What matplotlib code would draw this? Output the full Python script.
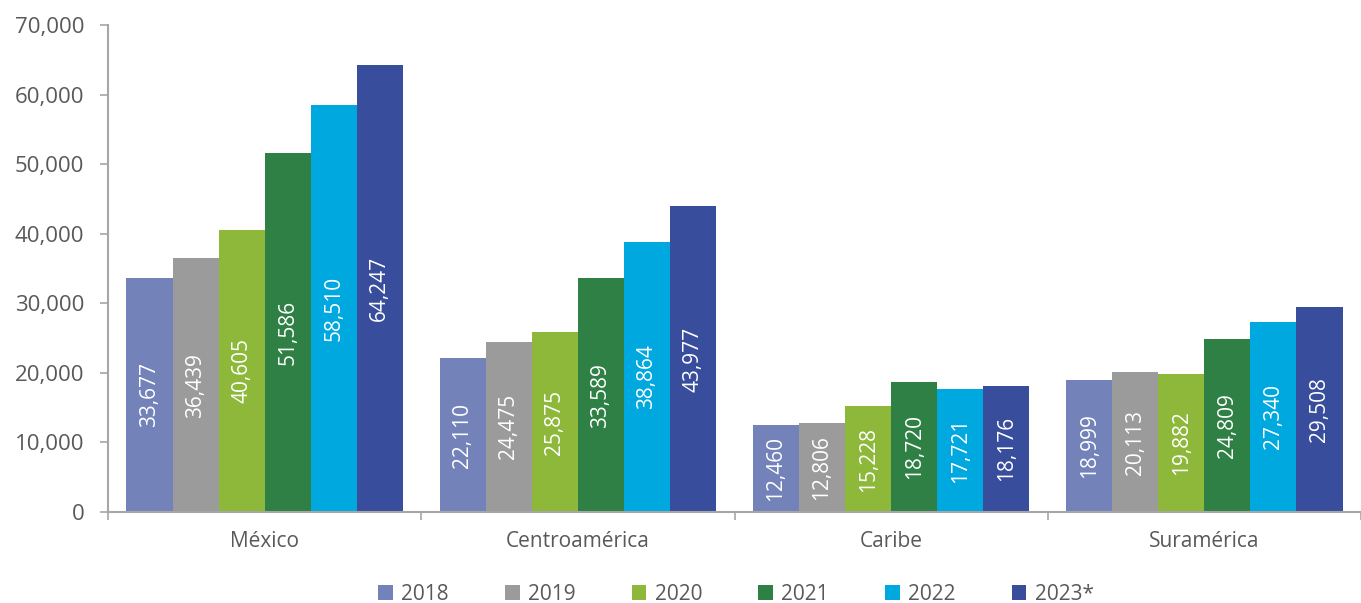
import numpy as np
import matplotlib.pyplot as plt

regions = ['México', 'Centroamérica', 'Caribe', 'Suramérica']
years = ['2018', '2019', '2020', '2021', '2022', '2023*']
values = {
    '2018': [33677, 22110, 12460, 18999],
    '2019': [36439, 24475, 12806, 20113],
    '2020': [40605, 25875, 15228, 19882],
    '2021': [51586, 33589, 18720, 24809],
    '2022': [58510, 38864, 17721, 27340],
    '2023*': [64247, 43977, 18176, 29508],
}
colors = ['#7382B9', '#9B9B9B', '#8DB83A', '#2E8044', '#00A8E0', '#384D9B']

plt.rcParams['font.family'] = ['Open Sans', 'DejaVu Sans']
grey = '#595959'
axis_grey = '#A6A6A6'

fig = plt.figure(figsize=(13.61, 6.03), dpi=100)
ax = fig.add_axes([108/1361, 1-512/603, 1-108/1361, (512-25)/603])

x = np.arange(len(regions))
w = 0.147
for i, yr in enumerate(years):
    pos = x - 2.5*w + i*w
    ax.bar(pos, values[yr], width=w, color=colors[i], label=yr)
    for p, v in zip(pos, values[yr]):
        ax.text(p, v/2, f'{v:,}', rotation=90, ha='center', va='center',
                color='white', fontsize=15)

ax.set_xlim(-0.5, len(regions)-0.5)
ax.set_ylim(0, 70000)
ax.set_yticks(np.arange(0, 70001, 10000))
ax.set_yticklabels([f'{t:,}' for t in range(0, 70001, 10000)])
ax.set_xticks(x)
ax.set_xticklabels(regions)
ax.set_xticks(np.arange(-0.5, len(regions), 1), minor=True)

for s in ['top', 'right']:
    ax.spines[s].set_visible(False)
for s in ['left', 'bottom']:
    ax.spines[s].set_color(axis_grey)
    ax.spines[s].set_linewidth(1.5)

ax.tick_params(axis='y', colors=axis_grey, labelcolor=grey, labelsize=16,
               length=6, width=1.2, pad=11)
ax.tick_params(axis='x', which='major', length=0, labelcolor=grey,
               labelsize=15, pad=14)
ax.tick_params(axis='x', which='minor', length=6, width=1.2, colors=axis_grey)

fig.legend(loc='center', bbox_to_anchor=(736/1361, 1-594/603), ncol=6,
           frameon=False, fontsize=15, handlelength=0.7, handleheight=0.7,
           handletextpad=0.4, columnspacing=2.7, labelcolor=grey)

fig.savefig('out.png', dpi=100)
